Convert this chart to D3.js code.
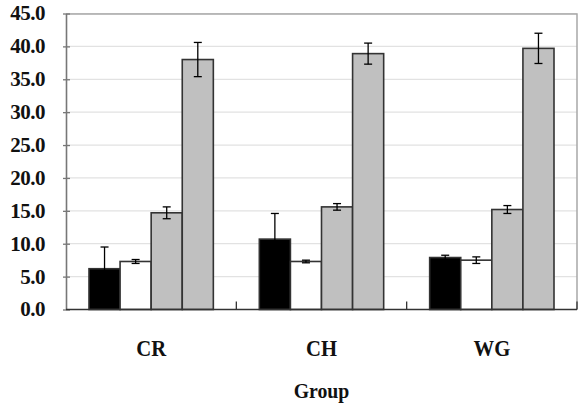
<!DOCTYPE html>
<html>
<head>
<meta charset="utf-8">
<script src="https://cdn.jsdelivr.net/npm/d3@7"></script>
<style>
  body { margin: 0; background: #fff; }
  svg text { font-family: "Liberation Serif", "Times New Roman", serif; font-weight: bold; }
</style>
</head>
<body>
<svg id="chart"></svg>
<script>
const groups = ["CR", "CH", "WG"];
const seriesNames = ["s1", "s2", "s3", "s4"];
const seriesFill = ["#000000", "#ffffff", "#c0c0c0", "#c0c0c0"];
// mean values per group, in series order
const means = [
  [6.2, 7.3, 14.7, 38.0],
  [10.7, 7.3, 15.6, 38.9],
  [7.9, 7.5, 15.2, 39.7],
];
const errors = [
  [3.3, 0.3, 0.9, 2.6],
  [3.9, 0.2, 0.5, 1.6],
  [0.35, 0.5, 0.6, 2.3],
];
const yTicks = [0, 5, 10, 15, 20, 25, 30, 35, 40, 45];

const width = 582, height = 413;
const margin = { top: 13.5, right: 5, bottom: 103.5, left: 66 };
const innerW = width - margin.left - margin.right;
const innerH = height - margin.top - margin.bottom;

const svg = d3.select("#chart").attr("width", width).attr("height", height);
const g = svg.append("g").attr("transform", `translate(${margin.left},${margin.top})`);

const y = d3.scaleLinear().domain([0, 45]).range([innerH, 0]);
const x0 = d3.scaleBand().domain(groups).range([0, innerW]).paddingInner(0.27).paddingOuter(0.135);
const x1 = d3.scaleBand().domain(seriesNames).range([0, x0.bandwidth()]);

// grid
g.append("g")
  .selectAll("line")
  .data(yTicks.slice(1))
  .join("line")
  .attr("x1", 0).attr("x2", innerW)
  .attr("y1", d => y(d)).attr("y2", d => y(d))
  .attr("stroke", "#e2e2e2").attr("stroke-width", 1.2);

// plot border (top, right)
g.append("path")
  .attr("d", `M0,0.5H${innerW}V${innerH}`)
  .attr("fill", "none").attr("stroke", "#a8a8a8").attr("stroke-width", 1.5);

// bars
const grp = g.selectAll(".grp")
  .data(groups)
  .join("g")
  .attr("transform", d => `translate(${x0(d)},0)`);

grp.selectAll("rect")
  .data((d, i) => means[i].map((v, j) => ({ v, s: seriesNames[j], j })))
  .join("rect")
  .attr("x", d => x1(d.s))
  .attr("width", x1.bandwidth())
  .attr("y", d => y(d.v))
  .attr("height", d => y(0) - y(d.v))
  .attr("fill", d => seriesFill[d.j])
  .attr("stroke", "#333")
  .attr("stroke-width", 1.6);

// error bars
const eb = grp.selectAll(".err")
  .data((d, i) => means[i].map((v, j) => ({ v, e: errors[i][j], s: seriesNames[j] })))
  .join("g")
  .attr("class", "err")
  .attr("transform", d => `translate(${x1(d.s) + x1.bandwidth() / 2},0)`)
  .attr("stroke", "#000").attr("stroke-width", 1.3);
eb.append("line").attr("y1", d => y(d.v + d.e)).attr("y2", d => y(d.v - d.e));
eb.append("line").attr("x1", -4).attr("x2", 4).attr("y1", d => y(d.v + d.e)).attr("y2", d => y(d.v + d.e));
eb.append("line").attr("x1", -4).attr("x2", 4).attr("y1", d => y(d.v - d.e)).attr("y2", d => y(d.v - d.e));

// y axis
const yAxis = g.append("g")
  .call(d3.axisLeft(y).tickValues(yTicks).tickFormat("").tickSize(4).tickSizeOuter(0));
yAxis.select(".domain").attr("stroke", "#777").attr("stroke-width", 1.6);
yAxis.selectAll(".tick line").attr("stroke", "#777").attr("stroke-width", 1.3).attr("x2", 4).attr("x1", -3);

g.append("g")
  .selectAll("text")
  .data(yTicks)
  .join("text")
  .attr("x", -21)
  .attr("y", d => y(d))
  .attr("dy", "0.33em")
  .attr("text-anchor", "end")
  .attr("font-size", 21)
  .attr("letter-spacing", -0.5)
  .attr("fill", "#111")
  .text(d3.format(".1f"));

// x axis line with boundary ticks pointing up
const xb = g.append("g").attr("transform", `translate(0,${innerH})`);
xb.append("line").attr("x1", 0).attr("x2", innerW).attr("stroke", "#333").attr("stroke-width", 1.6);
const step = x0.step();
xb.selectAll(".bt")
  .data(groups.map((d) => x0(d) - step * x0.paddingInner() / 2 + step))
  .join("line")
  .attr("x1", d => d).attr("x2", d => d)
  .attr("y1", 0).attr("y2", -8)
  .attr("stroke", "#333").attr("stroke-width", 1.3);

xb.selectAll(".cl")
  .data(groups)
  .join("text")
  .attr("transform", d => `translate(${x0(d) + x0.bandwidth() / 2},46) scale(0.9,1)`)
  .attr("text-anchor", "middle")
  .attr("font-size", 23)
  .attr("fill", "#111")
  .text(d => d);

svg.append("text")
  .attr("transform", `translate(${margin.left + innerW / 2},398) scale(0.9,1)`)
  .attr("text-anchor", "middle")
  .attr("font-size", 22)
  .attr("fill", "#111")
  .text("Group");
</script>
</body>
</html>
